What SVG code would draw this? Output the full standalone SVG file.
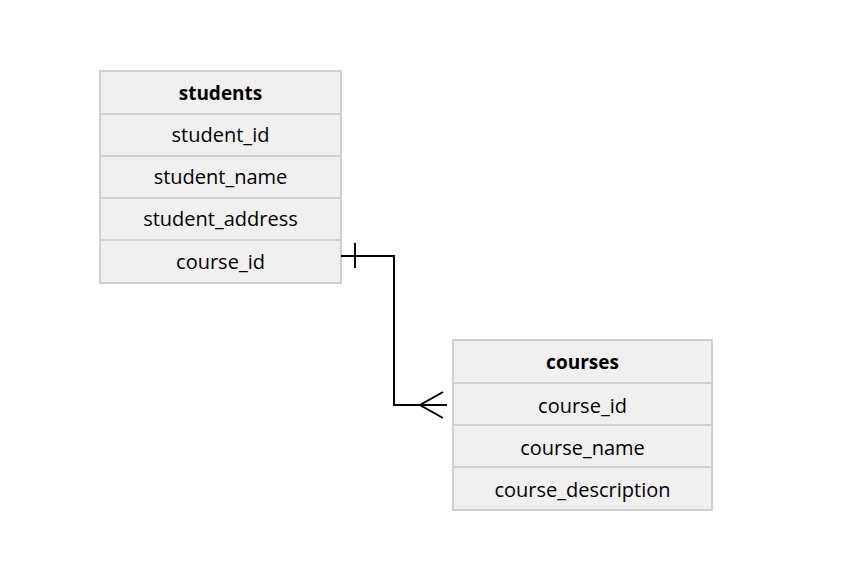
<svg xmlns="http://www.w3.org/2000/svg" width="842" height="577" viewBox="0 0 842 577">
<style>
.cell{fill:#f0f0f0;stroke:#d0d0d0;stroke-width:2}
.t{font-family:"Open Sans","Noto Sans",sans-serif;font-size:20px;fill:#000;text-anchor:middle;dominant-baseline:central}
.b{font-weight:bold;font-size:19px}
.ln{fill:none;stroke:#000;stroke-width:2}
</style>
<rect width="842" height="577" fill="#fff"/>
<g id="students">
<rect class="cell" x="100" y="71" width="241" height="43"/>
<rect class="cell" x="100" y="114" width="241" height="42"/>
<rect class="cell" x="100" y="156" width="241" height="42"/>
<rect class="cell" x="100" y="198" width="241" height="42"/>
<rect class="cell" x="100" y="240" width="241" height="43"/>
<text class="t b" x="220.5" y="92.5">students</text>
<text class="t" x="220.5" y="134.5">student_id</text>
<text class="t" x="220.5" y="176.5">student_name</text>
<text class="t" x="220.5" y="218.5">student_address</text>
<text class="t" x="220.5" y="261">course_id</text>
</g>
<g id="courses">
<rect class="cell" x="453" y="340" width="259" height="43"/>
<rect class="cell" x="453" y="383" width="259" height="42"/>
<rect class="cell" x="453" y="425" width="259" height="42"/>
<rect class="cell" x="453" y="467" width="259" height="43"/>
<text class="t b" x="582.5" y="361.5">courses</text>
<text class="t" x="582.5" y="405">course_id</text>
<text class="t" x="582.5" y="447">course_name</text>
<text class="t" x="582.5" y="489">course_description</text>
</g>
<g id="connectors">
<path class="ln" d="M341 256 H394 V405 H447"/>
<path class="ln" d="M355 243 V268"/>
<path class="ln" d="M443 392 L420 405 L443 418"/>
</g>
</svg>
